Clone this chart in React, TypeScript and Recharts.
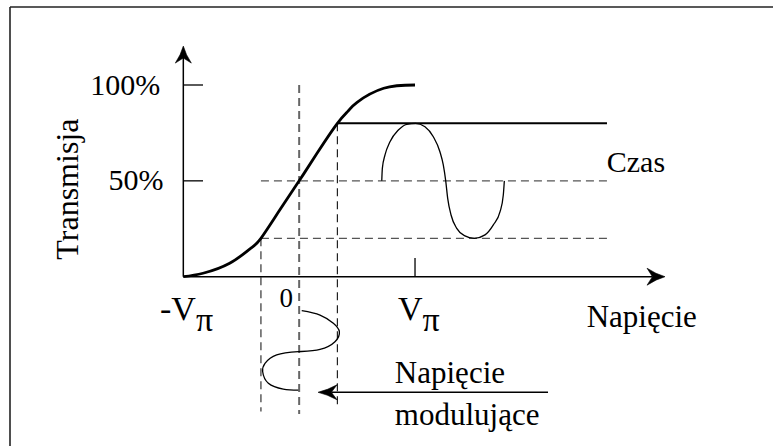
import React from 'react';
import { LineChart, Line, XAxis, YAxis, ReferenceLine, ReferenceDot } from 'recharts';

// transfer function: voltage (in units of V_pi) vs transmission (%)
const transferV = [-1, -0.83, -0.6, -0.424, -0.33, -0.165, 0, 0.15, 0.33, 0.424, 0.5, 0.73, 1];
const transferT = [0, 1.8, 7, 14.5, 20, 35, 50, 64, 80, 86.5, 91, 98.3, 100];

// output signal drawn against time (to the right of the curve)
const timeX = [0.713, 0.718, 0.741, 0.784, 0.856, 0.928, 1.006, 1.086, 1.158, 1.215, 1.244, 1.265,
  1.282, 1.311, 1.36, 1.426, 1.512, 1.604, 1.676, 1.734, 1.762, 1.771];
const timeT = [50, 56.5, 63.5, 70.4, 76.5, 79.5, 80, 78.2, 73, 65.2, 58.3, 50,
  40.9, 32.2, 25.2, 21.4, 20, 21.8, 27, 33.9, 42.6, 50];

// modulating voltage drawn below the axis (time runs downward)
const modV = [0.022, 0.18, 0.295, 0.347, 0.309, 0.18, -0.007, -0.194, -0.295, -0.315, -0.266, -0.137, -0.007];
const modT = [-17.7, -20, -24.3, -28.7, -33.9, -37.9, -39.1, -40.8, -45.2, -49.6, -55.6, -58.6, -59.2];

const yTicks = [50, 100];
const yTickLabels = ['50%', '100%'];
const biasLow = -0.33;
const biasHigh = 0.33;
const levelLow = 20;
const levelMid = 50;
const levelHigh = 80;

const transfer = transferV.map((x, i) => ({ x, y: transferT[i] }));
const timeWave = timeX.map((x, i) => ({ x, y: timeT[i] }));
const modWave = modV.map((x, i) => ({ x, y: modT[i] }));

const FONT = "'Liberation Serif', 'Times New Roman', serif";

const arrowLine = (head: number, half: number, width: number) => (p: any) => {
  const { x1, y1, x2, y2 } = p;
  const dx = x2 - x1;
  const dy = y2 - y1;
  const len = Math.hypot(dx, dy) || 1;
  const ux = dx / len;
  const uy = dy / len;
  const nx = -uy;
  const ny = ux;
  const bx = x2 - ux * head;
  const by = y2 - uy * head;
  const kx = x2 - ux * head * 0.7;
  const ky = y2 - uy * head * 0.7;
  const d = `M${x2},${y2} Q${x2 - ux * head * 0.5 + nx * half * 0.3},${y2 - uy * head * 0.5 + ny * half * 0.3} ${bx + nx * half},${by + ny * half} L${kx},${ky} L${bx - nx * half},${by - ny * half} Q${x2 - ux * head * 0.5 - nx * half * 0.3},${y2 - uy * head * 0.5 - ny * half * 0.3} ${x2},${y2} Z`;
  return (
    <g>
      <line x1={x1} y1={y1} x2={kx} y2={ky} stroke="#000" strokeWidth={width} />
      <path d={d} fill="#000" stroke="#000" strokeWidth={0.6} />
    </g>
  );
};

const txt = (
  key: string,
  x: number,
  y: number,
  render: (px: number, py: number) => React.ReactNode,
) => (
  <ReferenceDot
    key={key}
    x={x}
    y={y}
    r={0}
    fill="none"
    stroke="none"
    label={(p: any) => render(p.viewBox.x, p.viewBox.y) as any}
  />
);

const App = () => {
  const dash = { strokeDasharray: '8 5' };
  return (
    <div style={{ position: 'absolute', left: 0, top: 0, width: 773, height: 446, background: '#fff' }}>
      <LineChart width={773} height={446} margin={{ top: 7, right: 0, bottom: 0, left: 10 }}>
        <XAxis type="number" dataKey="x" domain={[-2.496, 4.09]} allowDataOverflow hide />
        <YAxis type="number" dataKey="y" domain={[-88.32, 140.69]} allowDataOverflow hide />

        {/* frame */}
        <ReferenceLine y={140.69} stroke="#222" strokeWidth={1.6} />
        <ReferenceLine x={-2.496} stroke="#222" strokeWidth={1.6} />

        {/* dashed guides */}
        <ReferenceLine segment={[{ x: 0, y: 100 }, { x: 0, y: -71.6 }]} stroke="#666" strokeWidth={2} {...dash} />
        <ReferenceLine segment={[{ x: biasLow, y: levelLow }, { x: biasLow, y: -70.3 }]} stroke="#333" strokeWidth={1.2} {...dash} />
        <ReferenceLine segment={[{ x: biasHigh, y: levelHigh }, { x: biasHigh, y: -67.8 }]} stroke="#222" strokeWidth={1.2} {...dash} />
        <ReferenceLine segment={[{ x: biasLow, y: levelMid }, { x: 2.657, y: levelMid }]} stroke="#555" strokeWidth={1.4} {...dash} />
        <ReferenceLine segment={[{ x: biasLow, y: levelLow }, { x: 2.657, y: levelLow }]} stroke="#555" strokeWidth={1.4} {...dash} />
        <ReferenceLine segment={[{ x: biasHigh, y: levelHigh }, { x: 2.657, y: levelHigh }]} stroke="#000" strokeWidth={2} />

        {/* axes */}
        <ReferenceLine segment={[{ x: -1, y: 0 }, { x: -1, y: 120.3 }]} shape={arrowLine(17, 8, 1.5)} />
        <ReferenceLine segment={[{ x: -1, y: 0 }, { x: 3.158, y: 0 }]} shape={arrowLine(18, 8.5, 1.5)} />
        {yTicks.map((t) => (
          <ReferenceLine key={`t${t}`} segment={[{ x: -1, y: t }, { x: -0.83, y: t }]} stroke="#000" strokeWidth={1.3} />
        ))}
        <ReferenceLine segment={[{ x: 1, y: 0 }, { x: 1, y: 9.75 }]} stroke="#000" strokeWidth={1.3} />
        <ReferenceLine segment={[{ x: 2.148, y: -60.3 }, { x: 0.163, y: -60.3 }]} shape={arrowLine(19, 7.5, 1.4)} />

        <Line data={transfer} dataKey="y" type="natural" stroke="#000" strokeWidth={2.8} dot={false} isAnimationActive={false} />
        <Line data={timeWave} dataKey="y" type="monotone" stroke="#000" strokeWidth={1.3} dot={false} isAnimationActive={false} />
        <Line data={modWave} dataKey="y" type="natural" stroke="#000" strokeWidth={1.3} dot={false} isAnimationActive={false} />

        {/* texts */}
        {txt('l100', -1.2, 94.8, (x, y) => (
          <text x={x} y={y} textAnchor="end" fontFamily={FONT} fontSize={30} fill="#000">{yTickLabels[1]}</text>
        ))}
        {txt('l50', -1.172, 45.2, (x, y) => (
          <text x={x} y={y} textAnchor="end" fontFamily={FONT} fontSize={30} fill="#000">{yTickLabels[0]}</text>
        ))}
        {txt('ylab', -1.909, 45.7, (x, y) => (
          <text x={x} y={y} textAnchor="middle" transform={`rotate(-90 ${x} ${y})`} fontFamily={FONT} fontSize={32} fill="#000">Transmisja</text>
        ))}
        {txt('vmin', -1.201, -22.6, (x, y) => (
          <text x={x} y={y} fontFamily={FONT} fontSize={34} fill="#000">-V<tspan dy={11} fontSize={34}>π</tspan></text>
        ))}
        {txt('vzero', -0.17, -15.8, (x, y) => (
          <text x={x} y={y} fontFamily={FONT} fontSize={27} fill="#000">0</text>
        ))}
        {txt('vmax', 0.853, -22.6, (x, y) => (
          <text x={x} y={y} fontFamily={FONT} fontSize={34} fill="#000">V<tspan dy={11} fontSize={34}>π</tspan></text>
        ))}
        {txt('xlab', 2.482, -26.1, (x, y) => (
          <text x={x} y={y} fontFamily={FONT} fontSize={31} fill="#000">Napięcie</text>
        ))}
        {txt('czas', 2.655, 54.8, (x, y) => (
          <text x={x} y={y} fontFamily={FONT} fontSize={30} fill="#000">Czas</text>
        ))}
        {txt('mod1', 0.826, -55.6, (x, y) => (
          <text x={x} y={y} fontFamily={FONT} fontSize={31} fill="#000">Napięcie</text>
        ))}
        {txt('mod2', 0.826, -77.4, (x, y) => (
          <text x={x} y={y} fontFamily={FONT} fontSize={31} fill="#000">modulujące</text>
        ))}
      </LineChart>
    </div>
  );
};

export default App;
